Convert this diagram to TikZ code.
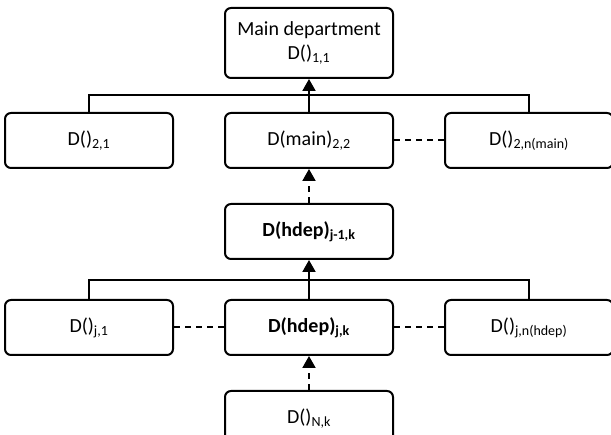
\documentclass[tikz,border=0pt]{standalone}
\usepackage{fontspec}
\setmainfont{Carlito}
\usetikzlibrary{arrows.meta,positioning}
\tikzstyle{block} = [rectangle, draw, fill=white, align=center, rounded corners=6pt,
    minimum width=168pt, minimum height=55pt, font=\fontsize{20}{24}\selectfont]

\begin{document}
\begin{tikzpicture}[>={Triangle[width=13pt,length=12pt]},line width=2pt,
                    node distance=34pt and 50pt]
  \useasboundingbox (0,0) rectangle (611pt,-435pt);
  \node[block,minimum height=70pt] (dept) at (309pt,-43pt) {Main department\\D()\textsubscript{1,1}};
  \node[block]           (main)   [below=33pt of dept]   {D(main)\textsubscript{2,2}};
  \node[block]           (d21)    [left=of main]         {D()\textsubscript{2,1}};
  \node[block]           (d2n)    [right=of main]        {D()\textsubscript{2,n(main)}};
  \node[block]           (hdepup) [below=of main]        {\textbf{D(hdep)\textsubscript{j-1,k}}};
  \node[block]           (hdep)   [below=39pt of hdepup] {\textbf{D(hdep)\textsubscript{j,k}}};
  \node[block]           (dj1)    [left=of hdep]         {D()\textsubscript{j,1}};
  \node[block]           (djn)    [right=of hdep]        {D()\textsubscript{j,n(hdep)}};
  \node[block]           (dNk)    [below=of hdep]        {D()\textsubscript{N,k}};

  % tree links
  \draw (d21.north) -- ++(0,17pt) -| (d2n.north);
  \draw (dj1.north) -- ++(0,19pt) -| (djn.north);
  \path[->] (main) edge (dept)
            (hdep) edge (hdepup);
  \path[->,dash pattern=on 6pt off 5pt] (hdepup) edge (main)
            (dNk) edge (hdep);
  % same level
  \path[dash pattern=on 6pt off 5pt] (main) edge (d2n)
            (dj1) edge (hdep)
            (hdep) edge (djn);
\end{tikzpicture}
\end{document}
